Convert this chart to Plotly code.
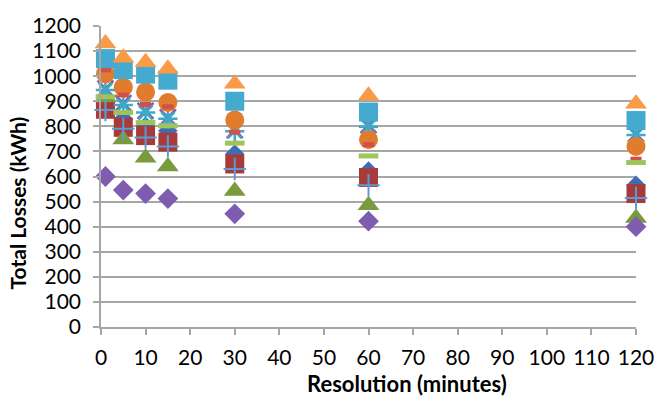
import plotly.graph_objects as go

resolution = [1, 5, 10, 15, 30, 60, 120]

s1_blue_diamond = [885, 830, 800, 782, 690, 622, 565]
s2_red_square = [868, 796, 763, 737, 650, 596, 532]
s3_green_triangle = [915, 748, 675, 640, 542, 485, 435]
s4_purple_x = [950, 893, 862, 836, 785, 805, 770]
s5_aqua_star = [945, 885, 855, 830, 780, 798, 765]
s6_orange_circle = [1010, 956, 937, 895, 825, 747, 720]
s7_blue_plus = [865, 790, 755, 720, 630, 565, 514]
s8_red_dot = [1025, 925, 887, 878, 777, 727, 669]
s9_green_dash = [918, 855, 815, 802, 733, 682, 656]
s10_purple_diamond = [600, 546, 532, 512, 451, 422, 400]
s11_aqua_square = [1070, 1026, 1008, 984, 900, 857, 823]
s12_orange_triangle = [1130, 1073, 1055, 1030, 970, 922, 890]

y_ticks = list(range(0, 1201, 100))
x_ticks = list(range(0, 121, 10))
x_title = "Resolution (minutes)"
y_title = "Total Losses (kWh)"

series = [
    (s1_blue_diamond, "diamond", 15, "#3F6DB5", 0),
    (s2_red_square, "square", 19, "#A83B3A", 0),
    (s3_green_triangle, "triangle-up", 19, "#7A9A3E", 0),
    (s4_purple_x, "x-thin-open", 16, "#7B5EA7", 2.5),
    (s5_aqua_star, "asterisk-open", 16, "#3FA8C8", 2.5),
    (s6_orange_circle, "circle", 19, "#E07C2E", 0),
    (s7_blue_plus, "cross-thin-open", 16, "#5B9BD5", 2),
    (s8_red_dot, "line-ew-open", 8, "#D0504D", 5),
    (s9_green_dash, "line-ew-open", 14, "#9EC45A", 5),
    (s10_purple_diamond, "diamond", 16, "#7E5DB0", 0),
    (s11_aqua_square, "square", 19, "#44AAD0", 0),
    (s12_orange_triangle, "triangle-up", 19, "#F99A45", 0),
]

fig = go.Figure()
for vals, sym, size, color, lw in series:
    if lw:
        marker = dict(symbol=sym, size=size, color=color, line=dict(color=color, width=lw))
    else:
        marker = dict(symbol=sym, size=size, color=color, line=dict(width=0))
    fig.add_trace(go.Scatter(x=resolution, y=vals, mode="markers", marker=marker,
                             showlegend=False, cliponaxis=False))

fam = "Lato, Open Sans, sans-serif"
axis_font = dict(family=fam, size=21, color="#000000")
W, H = 670, 398
ml, mr, mt, mb = 101, 34, 20, 71
fig.update_layout(
    width=W, height=H,
    margin=dict(l=ml, r=mr, t=mt, b=mb),
    paper_bgcolor="white", plot_bgcolor="white",
    showlegend=False,
    xaxis=dict(range=[0, 120], tickvals=x_ticks, showgrid=False, zeroline=False,
               showline=True, linecolor="#A6A6A6", linewidth=1.5,
               ticks="outside", ticklen=6, tickcolor="#A6A6A6", tickwidth=1.5,
               tickfont=axis_font, ticklabelstandoff=5),
    yaxis=dict(range=[0, 1200], tickvals=y_ticks, showgrid=True, gridcolor="#A6A6A6", gridwidth=1.5,
               zeroline=False, showline=True, linecolor="#A6A6A6", linewidth=1.5,
               ticks="outside", ticklen=6, tickcolor="#A6A6A6", tickwidth=1.5,
               tickfont=axis_font, ticklabelstandoff=8),
    annotations=[
        dict(text="<b>" + x_title + "</b>", xref="paper", yref="paper",
             x=(407 - ml) / (W - ml - mr), y=-(385 - (H - mb)) / (H - mt - mb),
             xanchor="center", yanchor="middle", showarrow=False,
             font=dict(family=fam, size=22, color="#000000")),
        dict(text="<b>" + y_title + "</b>", xref="paper", yref="paper",
             x=-(ml - 17) / (W - ml - mr), y=((H - mb) - 201) / (H - mt - mb),
             xanchor="center", yanchor="middle", textangle=-90, showarrow=False,
             font=dict(family=fam, size=21, color="#000000")),
    ],
)

fig.write_html("out.html")
